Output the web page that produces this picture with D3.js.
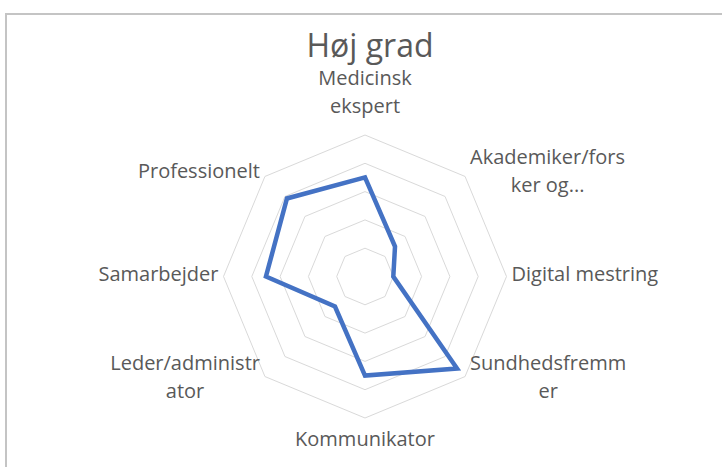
<!DOCTYPE html>
<html>
<head>
<meta charset="utf-8">
<script src="https://cdnjs.cloudflare.com/ajax/libs/d3/7.8.5/d3.min.js"></script>
<style>
	body { margin: 0; background: #fff; }
	svg { display: block; }
</style>
</head>
<body>
<script>
	// chart values (axis 0..50, rings every 10)
	var categories = [
		"Medicinsk ekspert",
		"Akademiker/forsker og...",
		"Digital mestring",
		"Sundhedsfremmer",
		"Kommunikator",
		"Leder/administrator",
		"Samarbejder",
		"Professionelt"
	];
	// how Excel wrapped the labels
	var labelLines = [
		["Medicinsk", "ekspert"],
		["Akademiker/fors", "ker og..."],
		["Digital mestring"],
		["Sundhedsfremm", "er"],
		["Kommunikator"],
		["Leder/administr", "ator"],
		["Samarbejder"],
		["Professionelt"]
	];
	var values = [35, 15, 10, 46, 35, 15, 35, 39];
	var ringTicks = [10, 20, 30, 40, 50];
	var chartTitle = "Høj grad";

	var w = 722, h = 467;
	var cx = 365, cy = 276.5, R = 141.5;
	var gray = "#595959";

	var svg = d3.select("body").append("svg")
		.attr("width", w)
		.attr("height", h);

	// chart area frame
	svg.append("rect")
		.attr("x", 6).attr("y", 14)
		.attr("width", 900).attr("height", 600)
		.attr("fill", "#fff")
		.attr("stroke", "#c4c4c4")
		.attr("stroke-width", 2);

	svg.append("text")
		.attr("x", 370).attr("y", 57)
		.attr("text-anchor", "middle")
		.attr("font-family", "Open Sans")
		.attr("font-size", 32)
		.attr("fill", gray)
		.text(chartTitle);

	var angle = d3.scaleLinear()
		.domain([0, categories.length])
		.range([0, 2 * Math.PI]);

	var r = d3.scaleLinear()
		.domain([0, d3.max(ringTicks)])
		.range([0, R]);

	var g = svg.append("g")
		.attr("transform", "translate(" + cx + "," + cy + ")");

	var radial = d3.lineRadial()
		.angle((d, i) => angle(i))
		.radius((d) => r(d))
		.curve(d3.curveLinearClosed);

	// grid rings
	g.selectAll(".ring")
		.data(ringTicks)
		.enter().append("path")
		.attr("class", "ring")
		.attr("d", (t) => radial(categories.map(() => t)))
		.attr("fill", "none")
		.attr("stroke", "#d9d9d9")
		.attr("stroke-width", 1);

	// data line
	g.append("path")
		.attr("d", radial(values))
		.attr("fill", "none")
		.attr("stroke", "#4472c4")
		.attr("stroke-width", 4.5)
		.attr("stroke-linejoin", "miter");

	// category labels
	var lineH = 28;
	categories.forEach(function (c, i) {
		var a = angle(i);
		var sx = Math.sin(a), sy = -Math.cos(a);
		var px = r(d3.max(ringTicks)) * sx, py = r(d3.max(ringTicks)) * sy;
		var n = labelLines[i].length;

		var lab = g.append("g");
		var texts = lab.selectAll("text")
			.data(labelLines[i])
			.enter().append("text")
			.attr("font-family", "Open Sans")
			.attr("font-size", 20)
			.attr("fill", gray)
			.attr("text-anchor", "middle")
			.attr("y", (d, k) => k * lineH)
			.text((d) => d);

		var bw = d3.max(texts.nodes(), (nd) => nd.getComputedTextLength());
		texts.attr("x", bw / 2);

		var x0, b0;
		if (sx > 0.01) x0 = px + 5;
		else if (sx < -0.01) x0 = px - 5 - bw;
		else x0 = px - bw / 2;

		// b0 = baseline of first line
		if (sy < -0.99) b0 = py - 22 - (n - 1) * lineH;
		else if (sy > 0.99) b0 = py + 28;
		else b0 = py + 4.5 + 4 * sy - (n - 1) * lineH / 2;

		lab.attr("transform", "translate(" + x0 + "," + b0 + ")");
	});
</script>
</body>
</html>
